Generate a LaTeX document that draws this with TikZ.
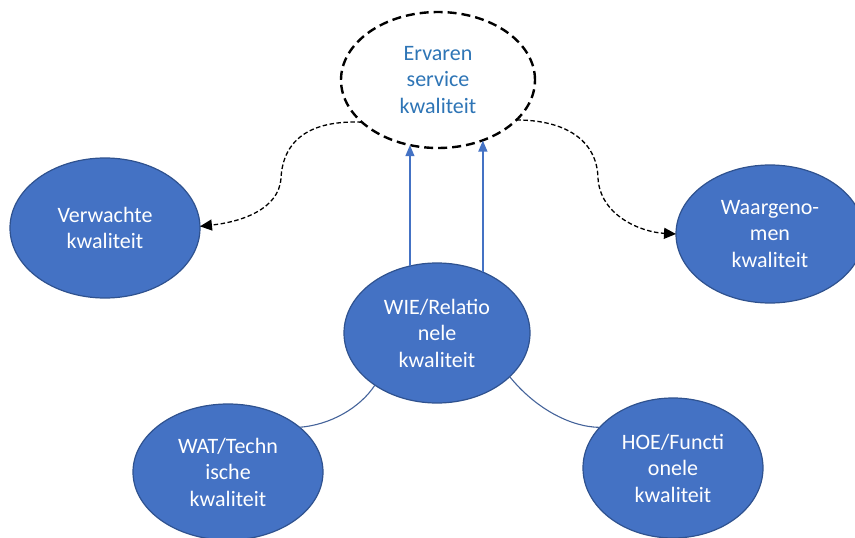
\documentclass[tikz,border=0pt]{standalone}
\usepackage{fontspec}
\setmainfont{Carlito}
\usetikzlibrary{arrows.meta,shapes.geometric}
\definecolor{fillblue}{HTML}{4472C4}
\definecolor{edgeblue}{HTML}{2F528F}
\definecolor{textblue}{HTML}{2E75B6}
\definecolor{lineblue}{HTML}{4472C4}
\begin{document}
\begin{tikzpicture}[x=1pt,y=-1pt,
  blob/.style={ellipse, fill=fillblue, draw=edgeblue, line width=1.2pt, text=white, align=center,
    font=\fontsize{22}{26.5}\selectfont, inner sep=0pt, outer sep=0pt},
  topblob/.style={ellipse, draw=black, dash pattern=on 9pt off 5pt, line width=2.4pt, fill=white, text=textblue,
    align=center, font=\fontsize{22}{26.5}\selectfont, inner sep=0pt, outer sep=0pt},
  dotcon/.style={draw=black, line width=1.3pt, dash pattern=on 4.5pt off 2.5pt, -{Triangle[length=12pt,width=11pt]}},
  bluearrow/.style={draw=lineblue, line width=1.3pt, -{Triangle[length=11pt,width=9pt]}},
  blueline/.style={draw=edgeblue!90, line width=1.1pt}
]
\useasboundingbox (0,0) rectangle (855,538);
\clip (0,0) rectangle (855,538);
\node[topblob, minimum width=194pt, minimum height=136pt] (top) at (438,80) {Ervaren\\service\\kwaliteit};
\node[blob, minimum width=190pt, minimum height=140pt] (left) at (105,228) {Verwachte\\kwaliteit};
\node[blob, minimum width=188pt, minimum height=138pt] (right) at (770,234) {Waargeno-\\men\\kwaliteit};
\node[blob, minimum width=186pt, minimum height=140pt] (wie) at (437,333) {WIE/Relatio\\nele\\kwaliteit};
\node[blob, minimum width=190pt, minimum height=136pt] (wat) at (228,472) {WAT/Techn\\ische\\kwaliteit};
\node[blob, minimum width=180pt, minimum height=140pt] (hoe) at (673,468) {HOE/Functi\\onele\\kwaliteit};

\draw[bluearrow] (wie.112) -- (wie.112 |- top.-113);
\draw[bluearrow] (wie.53.7) -- (wie.53.7 |- top.-54);

\draw[dotcon] (top.-151.7) .. controls (310,120) and (283,140) .. (281,178)
  .. controls (279,210) and (240,222) .. (left.1);
\draw[dotcon] (top.-27.1) .. controls (565,120) and (597,140) .. (598,178)
  .. controls (600,215) and (640,232) .. (right.west);

\draw[blueline] (wie.-140.8) .. controls (360,408) and (330,425) .. (wat.32);
\draw[blueline] (wie.-31.1) .. controls (535,408) and (570,427) .. (hoe.151.9);
\end{tikzpicture}
\end{document}
